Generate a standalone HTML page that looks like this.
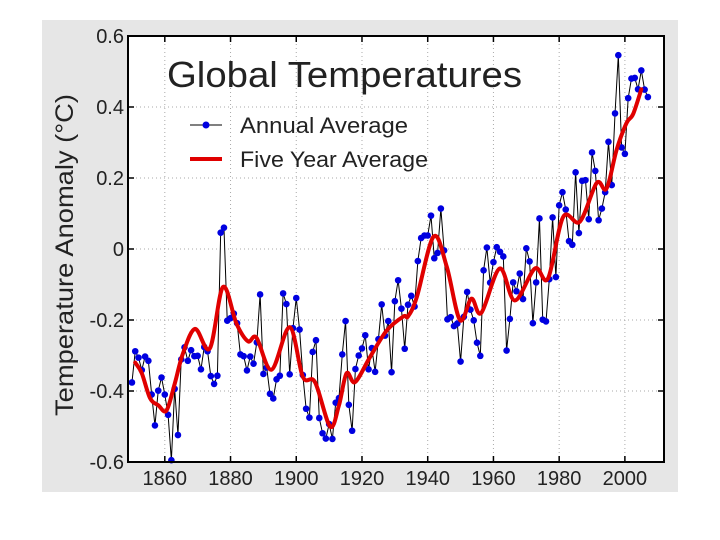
<!DOCTYPE html>
<html><head><meta charset="utf-8"><style>
body{margin:0;background:#fff;}
svg{display:block;font-family:"Liberation Sans",sans-serif;}
</style></head><body>
<svg id="chart" width="720" height="540">
<rect x="42" y="20" width="636" height="472" fill="#e6e6e6"/>
<rect x="128" y="36" width="536" height="426" fill="#fff"/>
<g id="grid"></g>
<g id="annual"></g>
<g id="smooth"></g>
<rect x="128" y="36" width="536" height="426" fill="none" stroke="#000" stroke-width="2"/>
<g id="axes"></g>
<text x="167" y="87" font-size="36" fill="#222" textLength="355" lengthAdjust="spacingAndGlyphs">Global Temperatures</text>
<g>
<g>
<line x1="190" y1="125" x2="222" y2="125" stroke="#000" stroke-width="1"/>
<circle cx="206" cy="125" r="3.5" fill="#0000e0"/>
<text x="240" y="133" font-size="22" fill="#222" textLength="168" lengthAdjust="spacingAndGlyphs">Annual Average</text></g>
<g>
<line x1="190" y1="159" x2="222" y2="159" stroke="#e00000" stroke-width="4"/>
<text x="240" y="167" font-size="22" fill="#222" textLength="188" lengthAdjust="spacingAndGlyphs">Five Year Average</text></g>
</g>
<text transform="translate(73,255) rotate(-90)" text-anchor="middle" font-size="25" fill="#222" textLength="322" lengthAdjust="spacingAndGlyphs">Temperature Anomaly (°C)</text>
</svg>
<script>
const annualStart = 1850;
const annualValues = [-0.376,-0.288,-0.306,-0.341,-0.303,-0.315,-0.410,-0.497,-0.399,-0.362,-0.410,-0.467,-0.595,-0.394,-0.524,-0.311,-0.277,-0.315,-0.285,-0.302,-0.301,-0.339,-0.276,-0.288,-0.358,-0.380,-0.357,0.046,0.060,-0.202,-0.195,-0.182,-0.209,-0.297,-0.302,-0.342,-0.303,-0.323,-0.263,-0.128,-0.352,-0.334,-0.408,-0.421,-0.367,-0.357,-0.125,-0.155,-0.353,-0.223,-0.138,-0.227,-0.355,-0.450,-0.475,-0.290,-0.257,-0.476,-0.519,-0.534,-0.493,-0.535,-0.433,-0.420,-0.297,-0.203,-0.439,-0.512,-0.338,-0.300,-0.280,-0.243,-0.339,-0.279,-0.346,-0.254,-0.156,-0.244,-0.203,-0.347,-0.147,-0.088,-0.168,-0.281,-0.157,-0.132,-0.162,-0.034,0.031,0.038,0.038,0.094,-0.026,-0.011,0.114,-0.004,-0.198,-0.192,-0.217,-0.210,-0.317,-0.191,-0.121,-0.171,-0.201,-0.264,-0.301,-0.06,0.004,-0.095,-0.037,0.005,-0.008,-0.021,-0.286,-0.197,-0.094,-0.119,-0.069,-0.141,0.002,-0.035,-0.209,-0.094,0.086,-0.199,-0.204,-0.085,0.089,-0.079,0.123,0.160,0.111,0.022,0.012,0.216,0.045,0.192,0.194,0.084,0.272,0.220,0.081,0.114,0.160,0.302,0.180,0.382,0.546,0.286,0.268,0.425,0.480,0.482,0.450,0.503,0.449,0.428];
const smoothYears = [1851,1853,1855.5,1858,1860.5,1863,1865.5,1869.2,1873.7,1877.7,1881.8,1885.3,1887.9,1892.5,1898,1902,1905.7,1910.3,1913,1915.3,1917.9,1922.4,1927.5,1932.6,1934,1936.7,1941.8,1945.8,1949.8,1953.3,1956.3,1961.9,1966.5,1972.6,1976.6,1981.2,1986.3,1991.4,1994.4,1997.5,2000.5,2002.5,2005];
const smoothValues = [-0.32,-0.35,-0.42,-0.44,-0.455,-0.38,-0.295,-0.225,-0.28,-0.107,-0.21,-0.26,-0.25,-0.34,-0.22,-0.36,-0.375,-0.50,-0.44,-0.35,-0.375,-0.305,-0.23,-0.19,-0.19,-0.135,0.035,-0.05,-0.20,-0.14,-0.18,-0.055,-0.145,-0.055,-0.083,0.09,0.077,0.186,0.17,0.28,0.355,0.38,0.45];
const yTicks = [0.6,0.4,0.2,0,-0.2,-0.4,-0.6];
const yTickLabels = ["0.6","0.4","0.2","0","-0.2","-0.4","-0.6"];
const xTicks = [1860,1880,1900,1920,1940,1960,1980,2000];

const NS="http://www.w3.org/2000/svg";
const X0=128,X1=664,Y0=36,Y1=462;
const yearMin=1848.8,yearMax=2011.9;
const xs=y=>X0+(y-yearMin)/(yearMax-yearMin)*(X1-X0);
const ys=v=>Y1-(v+0.6)/1.2*(Y1-Y0);
function mk(tag,attrs,parent){const e=document.createElementNS(NS,tag);for(const k in attrs)e.setAttribute(k,attrs[k]);parent.appendChild(e);return e;}
const grid=document.getElementById('grid'),axes=document.getElementById('axes');
yTicks.forEach((t,i)=>{
  const y=ys(t);
  if(i>0&&i<yTicks.length-1){const g=mk('line',{x1:X0,x2:X1,y1:y,y2:y,stroke:'#aaa','stroke-width':1,'stroke-dasharray':'1,3'},grid);
  
  }
  mk('line',{x1:X0,x2:X0+6,y1:y,y2:y,stroke:'#000','stroke-width':1.5},axes);
  mk('line',{x1:X1-6,x2:X1,y1:y,y2:y,stroke:'#000','stroke-width':1.5},axes);
  const t2=mk('text',{x:124,y:y+7,'text-anchor':'end','font-size':20,fill:'#222'},axes);
  t2.textContent=yTickLabels[i];
  
  
});
xTicks.forEach(t=>{
  const x=xs(t);
  const g=mk('line',{x1:x,x2:x,y1:Y0,y2:Y1,stroke:'#aaa','stroke-width':1,'stroke-dasharray':'1,3'},grid);
  
  
  mk('line',{x1:x,x2:x,y1:Y1,y2:Y1-6,stroke:'#000','stroke-width':1.5},axes);
  mk('line',{x1:x,x2:x,y1:Y0,y2:Y0+6,stroke:'#000','stroke-width':1.5},axes);
  const t2=mk('text',{x:x,y:485,'text-anchor':'middle','font-size':20,fill:'#222'},axes);
  t2.textContent=String(t);
  
  
});
const an=document.getElementById('annual');
const pts=annualValues.map((v,i)=>[xs(annualStart+i),ys(v)]);
const pl=mk('polyline',{points:pts.map(p=>p.join(',')).join(' '),fill:'none',stroke:'#000','stroke-width':1},an);


pts.forEach(p=>{const c=mk('circle',{cx:p[0],cy:p[1],r:3.3,fill:'#0000e0'},an);

});
const sp=smoothYears.map((y,i)=>[xs(y),ys(smoothValues[i])]);
let d='M'+sp[0].join(',');
for(let i=0;i<sp.length-1;i++){
  const p0=sp[Math.max(0,i-1)],p1=sp[i],p2=sp[i+1],p3=sp[Math.min(sp.length-1,i+2)];
  const c1=[p1[0]+(p2[0]-p0[0])/6,p1[1]+(p2[1]-p0[1])/6],c2=[p2[0]-(p3[0]-p1[0])/6,p2[1]-(p3[1]-p1[1])/6];
  d+=' C'+c1.join(',')+' '+c2.join(',')+' '+p2.join(',');
}
const sm=mk('path',{d:d,fill:'none',stroke:'#e00000','stroke-width':4,'stroke-linejoin':'round','stroke-linecap':'round'},document.getElementById('smooth'));


</script>
</body></html>
